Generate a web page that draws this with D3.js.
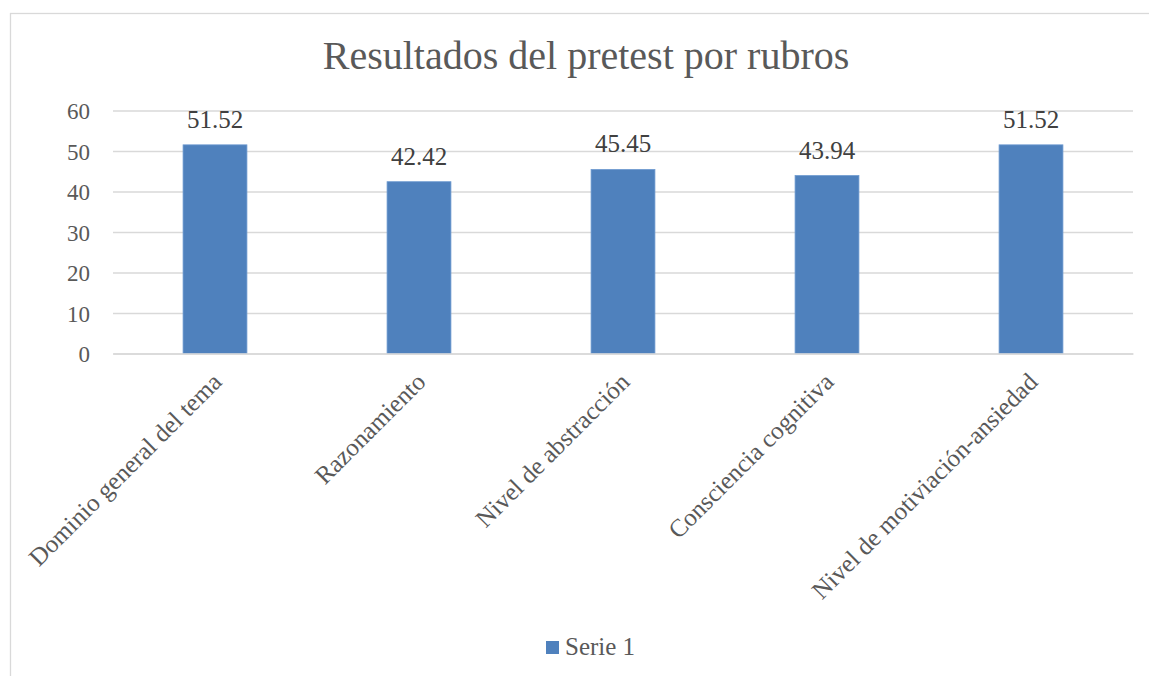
<!DOCTYPE html>
<html><head><meta charset="utf-8">
<script src="https://cdn.jsdelivr.net/npm/d3@7"></script>
<style>
html,body{margin:0;padding:0;background:#fff;}
text{font-family:"Liberation Serif","Times New Roman",serif;}
</style></head>
<body><svg id="c" width="1149" height="676"></svg>
<script>
const categories = ["Dominio general del tema","Razonamiento","Nivel de abstracción","Consciencia cognitiva","Nivel de motiviación-ansiedad"];
const values = [51.52, 42.42, 45.45, 43.94, 51.52];
const yTicks = [0,10,20,30,40,50,60];
const seriesName = "Serie 1";
const title = "Resultados del pretest por rubros";

const svg = d3.select("#c");
const plot = {left:113, right:1133, top:110.5, bottom:353.5};

svg.append("rect").attr("x",10.5).attr("y",13.5).attr("width",1160).attr("height",700)
  .attr("fill","#fff").attr("stroke","#d9d9d9").attr("stroke-width",1.3);

svg.append("text").attr("x",586).attr("y",69).attr("text-anchor","middle")
  .attr("font-size",40).attr("fill","#595959").text(title);

const x = d3.scaleBand().domain(categories).range([plot.left, plot.right]).paddingInner(0).paddingOuter(0);
const y = d3.scaleLinear().domain([0,60]).range([plot.bottom, plot.top]);

const yAxis = svg.append("g").attr("transform",`translate(${plot.left},0)`)
  .call(d3.axisLeft(y).tickValues(yTicks).tickSize(-(plot.right-plot.left)).tickPadding(23).tickFormat(d3.format("d")));
yAxis.select(".domain").remove();
yAxis.selectAll(".tick line").attr("stroke","#d9d9d9").attr("stroke-width",1.5);
yAxis.selectAll(".tick text").attr("font-size",23).attr("fill","#595959").attr("font-family","Liberation Serif").attr("dy","0.35em");

const bw = x.bandwidth()*0.313;
svg.append("g").selectAll("rect").data(values).join("rect")
  .attr("x",(d,i)=>x(categories[i])+x.bandwidth()/2-bw/2)
  .attr("y",d=>y(d)).attr("width",bw).attr("height",d=>y(0)-y(d))
  .attr("fill","#4f81bd").attr("stroke","#6f9bd0").attr("stroke-width",0.8);

svg.append("g").selectAll("text").data(values).join("text")
  .attr("x",(d,i)=>x(categories[i])+x.bandwidth()/2)
  .attr("y",d=>y(d)-17).attr("text-anchor","middle")
  .attr("font-size",25).attr("fill","#404040").text(d=>d.toFixed(2));

const xAxis = svg.append("g").attr("transform",`translate(0,${plot.bottom})`)
  .call(d3.axisBottom(x).tickSize(0).tickPadding(0));
xAxis.select(".domain").attr("stroke","#d9d9d9").attr("stroke-width",1.5);
xAxis.selectAll(".tick text").attr("font-size",25).attr("fill","#595959").attr("font-family","Liberation Serif")
  .attr("text-anchor","end").attr("dy",null).attr("y",null)
  .attr("transform","translate(8,30) rotate(-45)");

const lg = svg.append("g");
lg.append("rect").attr("x",546).attr("y",641).attr("width",13).attr("height",13).attr("fill","#4f81bd");
lg.append("text").attr("x",565).attr("y",655).attr("font-size",25).attr("fill","#595959").text(seriesName);
</script></body></html>
